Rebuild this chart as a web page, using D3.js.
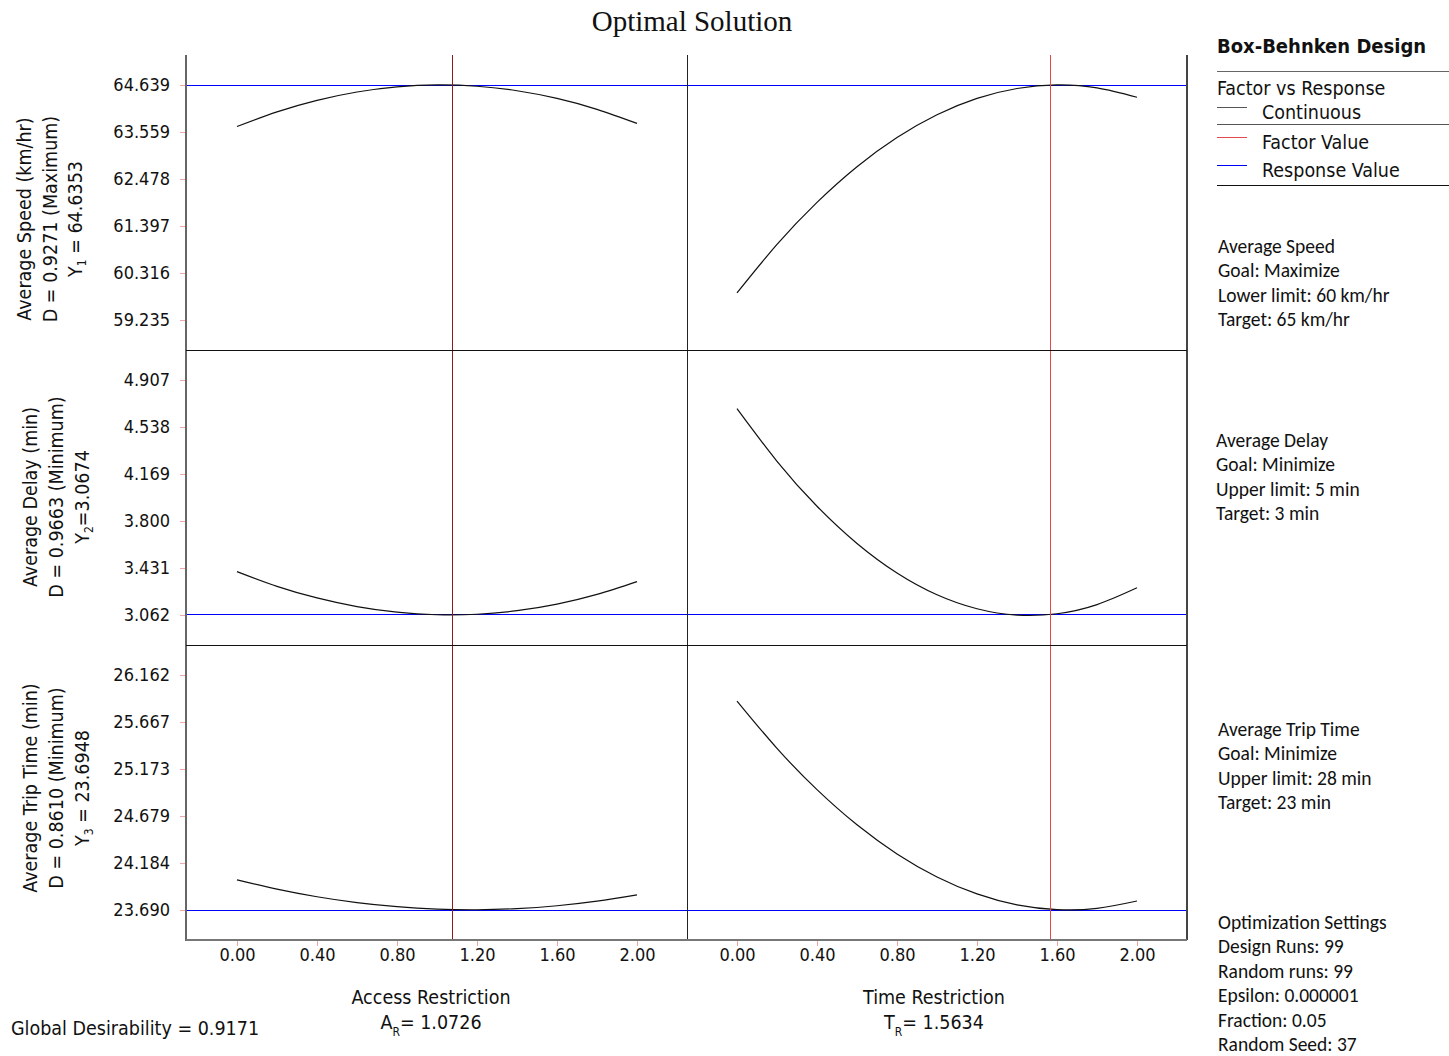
<!DOCTYPE html>
<html>
<head>
<meta charset="utf-8">
<script src="https://cdn.jsdelivr.net/npm/d3@7"></script>
<style>
  body { margin: 0; background: #fff; }
  svg text { fill: #111; }
</style>
</head>
<body>
<svg id="chart" width="1449" height="1056"></svg>
<script>
var levels = [0, 0.2, 0.4, 0.6, 0.8, 1.0, 1.2, 1.4, 1.6, 1.8, 2.0];
var xTicks = [0, 0.4, 0.8, 1.2, 1.6, 2.0];

var factorNames = ["Access Restriction", "Time Restriction"];
var factorSymbols = ["A", "T"];
var factorValues = [1.0726, 1.5634];

var responseNames = ["Average Speed (km/hr)", "Average Delay (min)", "Average Trip Time (min)"];
var responseGoals = ["Maximum", "Minimum", "Minimum"];
var desirability = [0.9271, 0.9663, 0.8610];
var responseValues = [64.6353, 3.0674, 23.6948];
var responseLabels = ["64.6353", "3.0674", "23.6948"];

var speedTicks = [59.235, 60.316, 61.397, 62.478, 63.559, 64.639];
var delayTicks = [3.062, 3.431, 3.800, 4.169, 4.538, 4.907];
var tripTicks = [23.690, 24.184, 24.679, 25.173, 25.667, 26.162];

var speedVsAccess = [63.683, 64.021, 64.286, 64.478, 64.595, 64.640, 64.610, 64.507, 64.331, 64.080, 63.756];
var speedVsTime = [59.858, 60.973, 61.940, 62.760, 63.431, 63.955, 64.331, 64.559, 64.640, 64.573, 64.358];
var delayVsAccess = [3.403, 3.287, 3.196, 3.128, 3.084, 3.064, 3.068, 3.096, 3.148, 3.224, 3.324];
var delayVsTime = [4.682, 4.269, 3.916, 3.624, 3.392, 3.221, 3.111, 3.061, 3.072, 3.144, 3.276];
var tripVsAccess = [24.008, 23.910, 23.830, 23.768, 23.725, 23.700, 23.693, 23.705, 23.735, 23.783, 23.850];
var tripVsTime = [25.888, 25.390, 24.956, 24.586, 24.280, 24.038, 23.860, 23.745, 23.695, 23.708, 23.785];

var rowTicks = [speedTicks, delayTicks, tripTicks];
var curves = [[speedVsAccess, speedVsTime], [delayVsAccess, delayVsTime], [tripVsAccess, tripVsTime]];

var legendItems = ["Continuous", "Factor Value", "Response Value"];
var goalBlocks = [
  ["Average Speed", "Goal: Maximize", "Lower limit: 60 km/hr", "Target: 65 km/hr"],
  ["Average Delay", "Goal: Minimize", "Upper limit: 5 min", "Target: 3 min"],
  ["Average Trip Time", "Goal: Minimize", "Upper limit: 28 min", "Target: 23 min"],
  ["Optimization Settings", "Design Runs: 99", "Random runs: 99", "Epsilon: 0.000001", "Fraction: 0.05", "Random Seed: 37"]
];

var svg = d3.select("#chart");
var tickFont = "'DejaVu Sans Condensed', 'DejaVu Sans', sans-serif";
var noteFont = "Carlito, Lato, 'Open Sans', sans-serif";
var labelSize = "19.5px";

// layout
var plotTop = 55, rowH = 295, panelW = 500;
var panelLeft = [187, 687];
var axisX = 186, plotRight = 1187, plotBottom = plotTop + rowH * 3;

var xScales = panelLeft.map(function (x0) {
  return d3.scaleLinear().domain([-0.25, 2.25]).range([x0, x0 + panelW]);
});

var yScales = rowTicks.map(function (t, i) {
  var step = t[1] - t[0];
  var top = plotTop + i * rowH;
  return d3.scaleLinear()
    .domain([t[0] - step * 0.638, t[t.length - 1] + step * 0.638])
    .range([top + rowH, top]);
});

function hline(x1, x2, y, color, w) {
  return svg.append("line").attr("x1", x1).attr("x2", x2).attr("y1", y).attr("y2", y)
    .attr("stroke", color).attr("stroke-width", w || 1).attr("shape-rendering", "crispEdges");
}
function vline(x, y1, y2, color, w) {
  return svg.append("line").attr("x1", x).attr("x2", x).attr("y1", y1).attr("y2", y2)
    .attr("stroke", color).attr("stroke-width", w || 1).attr("shape-rendering", "crispEdges");
}

// title
svg.append("text").attr("x", 692).attr("y", 31).attr("text-anchor", "middle")
  .style("font-family", "'Liberation Serif', 'Times New Roman', serif").style("font-size", "29px")
  .text("Optimal Solution");

// y axes
rowTicks.forEach(function (t, i) {
  var ax = d3.axisLeft(yScales[i]).tickValues(t).tickSize(6).tickPadding(10).tickFormat(d3.format(".3f"));
  var g = svg.append("g").attr("transform", "translate(" + axisX + ",0)").call(ax);
  g.select(".domain").remove();
  g.selectAll(".tick line").attr("stroke", "#f4a6a6");
  g.selectAll(".tick text").style("font-family", tickFont).style("font-size", "18px").attr("fill", "#111");
});

// x axes
xScales.forEach(function (xs) {
  var ax = d3.axisBottom(xs).tickValues(xTicks).tickSize(6).tickPadding(2).tickFormat(d3.format(".2f"));
  var g = svg.append("g").attr("transform", "translate(0," + plotBottom + ")").call(ax);
  g.select(".domain").remove();
  g.selectAll(".tick line").attr("stroke", "#f4a6a6");
  g.selectAll(".tick text").style("font-family", tickFont).style("font-size", "18px").attr("fill", "#111");
});

// response value lines (blue), spanning both panels
responseValues.forEach(function (v, i) {
  hline(axisX, plotRight, Math.round(yScales[i](v)) + 0.5, "#0000ff", 1);
});

// response curves
var line = d3.line().curve(d3.curveNatural);
curves.forEach(function (row, i) {
  row.forEach(function (vals, j) {
    var pts = levels.map(function (lv, k) { return [xScales[j](lv), yScales[i](vals[k])]; });
    svg.append("path").attr("d", line(pts))
      .attr("fill", "none").attr("stroke", "#111").attr("stroke-width", 1.2);
  });
});

// factor value lines
var factorColors = ["#8e1b1b", "#e8484a"];
factorValues.forEach(function (v, j) {
  vline(Math.round(xScales[j](v)) + 0.5, plotTop, plotBottom, factorColors[j], 1);
});

// frame
vline(axisX, plotTop, plotBottom + 1, "#666", 2);
vline(687, plotTop, plotBottom, "#222", 1);
vline(plotRight, plotTop, plotBottom, "#444", 2);
[1, 2].forEach(function (k) {
  hline(axisX, plotRight, plotTop + k * rowH, "#111", 1);
});
hline(axisX, plotRight, plotBottom, "#777", 2);

// y axis titles (three rotated lines per row)
var titleCenters = [219, 497, 788];
var titleCols = [[24, 50, 75], [30, 56, 82], [30, 56, 82]];
responseNames.forEach(function (name, i) {
  var cy = titleCenters[i], cols = titleCols[i];
  function rot(x) {
    return svg.append("text").attr("transform", "translate(" + x + "," + cy + ") rotate(-90)")
      .attr("text-anchor", "middle").attr("dominant-baseline", "central")
      .style("font-family", tickFont).style("font-size", labelSize);
  }
  rot(cols[0]).text(name);
  rot(cols[1]).text("D = " + d3.format(".4f")(desirability[i]) + " (" + responseGoals[i] + ")");
  var t = rot(cols[2]);
  t.append("tspan").text("Y");
  t.append("tspan").attr("baseline-shift", "sub").style("font-size", "12px").text(i + 1);
  t.append("tspan").text(i === 1 ? "=" + responseLabels[i] : " = " + responseLabels[i]);
});

// x axis titles
var xTitleCenters = [431, 934];
factorNames.forEach(function (name, j) {
  svg.append("text").attr("x", xTitleCenters[j]).attr("y", 1004).attr("text-anchor", "middle")
    .style("font-family", tickFont).style("font-size", labelSize).text(name);
  var t = svg.append("text").attr("x", xTitleCenters[j]).attr("y", 1029).attr("text-anchor", "middle")
    .style("font-family", tickFont).style("font-size", labelSize);
  t.append("tspan").text(factorSymbols[j]);
  t.append("tspan").attr("baseline-shift", "sub").style("font-size", "12px").text("R");
  t.append("tspan").attr("baseline-shift", "0").text("= " + d3.format(".4f")(factorValues[j]));
});

svg.append("text").attr("x", 11).attr("y", 1035)
  .style("font-family", tickFont).style("font-size", labelSize).text("Global Desirability = 0.9171");

// legend
var lx = 1217;
svg.append("text").attr("x", lx).attr("y", 53)
  .style("font-family", tickFont).style("font-size", "20px").style("font-weight", "bold")
  .text("Box-Behnken Design");
hline(lx, 1449, 71.5, "#666", 1.5);
svg.append("text").attr("x", lx).attr("y", 95)
  .style("font-family", tickFont).style("font-size", labelSize).text("Factor vs Response");
var legendColors = ["#555", "#e8484a", "#0000ff"];
var legendY = [107.5, 137.5, 165.5];
legendItems.forEach(function (d, k) {
  hline(lx, lx + 30, legendY[k], legendColors[k], 1);
  svg.append("text").attr("x", 1262).attr("y", legendY[k] + 11)
    .style("font-family", tickFont).style("font-size", labelSize).text(d);
});
hline(lx, 1449, 124.5, "#555", 1);
hline(lx, 1449, 185.5, "#111", 1);

// goal / settings notes
var blockTops = [246, 440, 729, 922];
var blockX = [1218, 1216, 1218, 1218];
goalBlocks.forEach(function (lines, b) {
  lines.forEach(function (s, k) {
    svg.append("text").attr("x", blockX[b]).attr("y", blockTops[b] + k * 24.4)
      .attr("dominant-baseline", "central")
      .style("font-family", noteFont).style("font-size", "19.5px").text(s);
  });
});
</script>
</body>
</html>
